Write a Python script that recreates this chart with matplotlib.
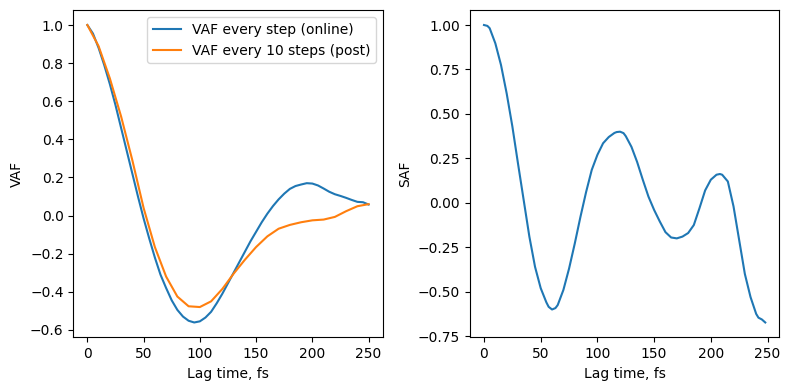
import matplotlib

matplotlib.use('Agg')
import matplotlib.pyplot as plt
import numpy as np

# --- DATA ---
# VAF every step (online), sampled every 5 fs
t_online = np.arange(0, 251, 5)
vaf_online = [1.0, 0.955, 0.88, 0.79, 0.69, 0.58, 0.46, 0.34, 0.22, 0.10,
              -0.015, -0.12, -0.22, -0.31, -0.38, -0.445, -0.495, -0.53, -0.552, -0.561,
              -0.555, -0.535, -0.505, -0.46, -0.41, -0.355, -0.30, -0.245, -0.19, -0.135,
              -0.085, -0.035, 0.01, 0.05, 0.085, 0.115, 0.14, 0.155, 0.163, 0.17,
              0.168, 0.158, 0.142, 0.125, 0.112, 0.103, 0.093, 0.082, 0.072, 0.07,
              0.058]

# VAF every 10 steps (post)
t_post = np.arange(0, 251, 10)
vaf_post = [1.0, 0.889, 0.72, 0.52, 0.29, 0.04, -0.165, -0.32, -0.425, -0.476,
            -0.48, -0.45, -0.385, -0.305, -0.232, -0.165, -0.109, -0.069, -0.049, -0.035,
            -0.025, -0.021, -0.007, 0.023, 0.049, 0.06]

# SAF
t_saf = [0, 3, 5, 10, 15, 20, 25, 30, 35, 40, 45, 50, 55, 57, 60, 63, 65, 70, 75, 80,
         85, 90, 95, 100, 105, 110, 115, 117, 120, 123, 125, 130, 135, 140, 145, 150,
         155, 160, 165, 170, 175, 180, 185, 190, 195, 200, 205, 208, 210, 215, 220,
         225, 230, 235, 240, 242, 245, 248]
saf = [1.0, 0.995, 0.982, 0.897, 0.775, 0.615, 0.43, 0.22, 0.015, -0.19,
       -0.36, -0.48, -0.56, -0.585, -0.6, -0.592, -0.575, -0.49, -0.37, -0.23,
       -0.08, 0.06, 0.185, 0.27, 0.335, 0.37, 0.393, 0.398, 0.40, 0.392,
       0.375, 0.315, 0.23, 0.13, 0.035, -0.04, -0.105, -0.165, -0.195, -0.2,
       -0.19, -0.17, -0.125, -0.03, 0.07, 0.13, 0.158, 0.162, 0.158, 0.12,
       -0.02, -0.21, -0.40, -0.53, -0.625, -0.646, -0.656, -0.673]

# --- PLOT ---
fig, (ax1, ax2) = plt.subplots(1, 2, figsize=(7.88, 3.9), dpi=100)
fig.subplots_adjust(left=0.093, right=0.989, top=0.974, bottom=0.135, wspace=0.282)

ax1.plot(t_online, vaf_online, label='VAF every step (online)')
ax1.plot(t_post, vaf_post, label='VAF every 10 steps (post)')
ax1.set_xlabel('Lag time, fs')
ax1.set_ylabel('VAF')
ax1.legend()

ax2.plot(t_saf, saf)
ax2.set_xlabel('Lag time, fs')
ax2.set_ylabel('SAF')

fig.savefig('out.png', dpi=100)
